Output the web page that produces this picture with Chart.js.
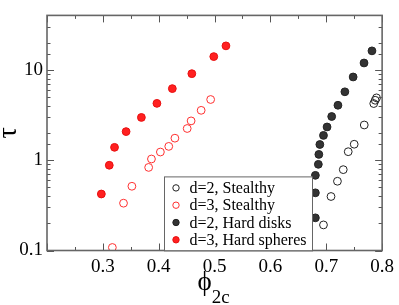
<!DOCTYPE html>
<html>
<head>
<meta charset="utf-8">
<script src="https://cdn.jsdelivr.net/npm/chart.js@4"></script>
<style>
html,body{margin:0;padding:0;background:#fff;}
canvas{display:block;}
</style>
</head>
<body>
<canvas id="c" width="399" height="305"></canvas>
<script>
// ---- data ----
const stealthy2D_x = [0.695, 0.7085, 0.720, 0.7304, 0.7393, 0.750, 0.768, 0.785, 0.7876, 0.790];
const stealthy2D_y = [0.192, 0.396, 0.584, 0.785, 1.24, 1.50, 2.45, 4.23, 4.60, 4.89];
const stealthy3D_x = [0.317, 0.337, 0.352, 0.382, 0.387, 0.403, 0.418, 0.429, 0.451, 0.458, 0.476, 0.493];
const stealthy3D_y = [0.108, 0.334, 0.514, 0.831, 1.03, 1.23, 1.42, 1.75, 2.24, 2.72, 3.56, 4.69];
const disks2D_x = [0.6805, 0.6805, 0.6805, 0.6858, 0.6867, 0.6885, 0.695, 0.7014, 0.7097, 0.7209, 0.7333, 0.7481, 0.7676, 0.7818];
const disks2D_y = [0.230, 0.435, 0.679, 0.899, 1.158, 1.49, 1.88, 2.33, 3.04, 4.05, 5.71, 8.33, 11.9, 16.2];
const spheres3D_x = [0.2973, 0.3115, 0.3209, 0.3416, 0.369, 0.3968, 0.4244, 0.4593, 0.4986, 0.5204];
const spheres3D_y = [0.422, 0.878, 1.386, 2.07, 2.97, 4.25, 6.19, 9.06, 14.0, 18.4];
const seriesLabels = ['d=2, Stealthy', 'd=3, Stealthy', 'd=2, Hard disks', 'd=3, Hard spheres'];
const xTickLabels = [0.3, 0.4, 0.5, 0.6, 0.7, 0.8];
const yTickLabels = [0.1, 1, 10];

const zip = (xs, ys) => xs.map((x, i) => ({x: x, y: ys[i]}));
const SERIF = "'Liberation Serif', serif";
Chart.defaults.font.family = SERIF;
Chart.defaults.color = '#000';

const frameTicks = {
  id: 'frameTicks',
  afterDatasetsDraw(chart) {
    const ctx = chart.ctx, ca = chart.chartArea;
    const xs = chart.scales.x, ys = chart.scales.y;
    ctx.save();
    ctx.strokeStyle = '#555';
    ctx.lineWidth = 1;
    ctx.beginPath();
    xs.ticks.forEach(t => {
      const p = Math.round(xs.getPixelForValue(t.value)) + 0.5;
      const major = Math.abs(t.value * 10 - Math.round(t.value * 10)) < 1e-6;
      const len = major ? 7 : 3.5;
      ctx.moveTo(p, ca.bottom); ctx.lineTo(p, ca.bottom - len);
      ctx.moveTo(p, ca.top); ctx.lineTo(p, ca.top + len);
    });
    ys.ticks.forEach(t => {
      const lg = Math.log10(t.value);
      const p = Math.round(ys.getPixelForValue(t.value)) + 0.5;
      const major = Math.abs(lg - Math.round(lg)) < 1e-9;
      const len = major ? 7 : 3.5;
      ctx.moveTo(ca.left, p); ctx.lineTo(ca.left + len, p);
      ctx.moveTo(ca.right, p); ctx.lineTo(ca.right - len, p);
    });
    ctx.stroke();
    ctx.strokeStyle = '#666';
    ctx.lineWidth = 1.6;
    ctx.strokeRect(ca.left, ca.top, ca.right - ca.left, ca.bottom - ca.top);

    // legend box
    const lx = ca.left + 117, ly = ca.top + 161, lw = 148, lh = 74;
    ctx.fillStyle = '#fff';
    ctx.fillRect(lx, ly, lw, lh);
    ctx.strokeStyle = '#666';
    ctx.lineWidth = 1;
    ctx.strokeRect(lx + 0.5, ly + 0.5, lw, lh);
    ctx.font = "16px 'Liberation Serif', serif";
    ctx.textBaseline = 'middle';
    ctx.textAlign = 'left';
    chart.data.datasets.forEach((ds, i) => {
      const cy = ly + 11.5 + i * 17.3;
      ctx.beginPath();
      ctx.arc(lx + 12, cy, 3.2, 0, Math.PI * 2);
      ctx.fillStyle = ds.pointBackgroundColor;
      ctx.fill();
      ctx.strokeStyle = ds.pointBorderColor;
      ctx.lineWidth = 1;
      ctx.stroke();
      ctx.fillStyle = '#000';
      ctx.fillText(ds.label, lx + 25.5, cy + 1);
    });

    // x axis title: phi with subscript 2c
    const cx = (ca.left + ca.right) / 2 - 1;
    ctx.fillStyle = '#000';
    ctx.textBaseline = 'alphabetic';
    ctx.font = "27px 'Liberation Serif', serif";
    const phi = '\u03D5';
    const w1 = ctx.measureText(phi).width;
    ctx.font = "19px 'Liberation Serif', serif";
    const w2 = ctx.measureText('2c').width;
    const start = cx - (w1 + w2) / 2;
    ctx.font = "27px 'Liberation Serif', serif";
    ctx.fillText(phi, start, 290);
    ctx.font = "19px 'Liberation Serif', serif";
    ctx.fillText('2c', start + w1, 303);
    ctx.restore();
  }
};

new Chart(document.getElementById('c'), {
  type: 'scatter',
  data: {
    datasets: [
      {label: seriesLabels[0], data: zip(stealthy2D_x, stealthy2D_y),
       pointBackgroundColor: 'rgba(0,0,0,0)', pointBorderColor: '#222', pointRadius: 3.9, pointBorderWidth: 1},
      {label: seriesLabels[1], data: zip(stealthy3D_x, stealthy3D_y),
       pointBackgroundColor: 'rgba(0,0,0,0)', pointBorderColor: '#ff3030', pointRadius: 3.9, pointBorderWidth: 1},
      {label: seriesLabels[2], data: zip(disks2D_x, disks2D_y),
       pointBackgroundColor: '#333', pointBorderColor: '#222', pointRadius: 3.9, pointBorderWidth: 1},
      {label: seriesLabels[3], data: zip(spheres3D_x, spheres3D_y),
       pointBackgroundColor: '#ff2020', pointBorderColor: '#e81010', pointRadius: 3.9, pointBorderWidth: 1}
    ]
  },
  options: {
    responsive: false,
    animation: false,
    devicePixelRatio: 1,
    layout: {padding: {top: 1, right: 13, left: 0, bottom: 0}},
    plugins: {legend: {display: false}, tooltip: {enabled: false}},
    scales: {
      x: {
        type: 'linear', min: 0.2, max: 0.8,
        grid: {display: false, drawTicks: false},
        border: {display: false},
        ticks: {
          stepSize: 0.05, autoSkip: false, maxRotation: 0, padding: 5,
          color: '#000', font: {family: SERIF, size: 19},
          callback: v => {
            const hit = xTickLabels.find(t => Math.abs(t - v) < 1e-6);
            return hit !== undefined ? hit.toFixed(1) : '';
          }
        },
        afterFit: s => { s.height = 54.5; }
      },
      y: {
        type: 'logarithmic', min: 0.1, max: 40,
        grid: {display: false, drawTicks: false},
        border: {display: false},
        ticks: {
          autoSkip: false, padding: 4,
          color: '#000', font: {family: SERIF, size: 19},
          callback: v => {
            const hit = yTickLabels.find(t => Math.abs(t - v) < 1e-9 * Math.max(1, t));
            return hit !== undefined ? String(hit) : '';
          }
        },
        title: {display: true, text: '\u03C4', color: '#000', padding: 0,
                font: {family: SERIF, size: 28, lineHeight: '18px'}},
        afterFit: s => { s.width = 47; }
      }
    }
  },
  plugins: [frameTicks]
});
</script>
</body>
</html>
